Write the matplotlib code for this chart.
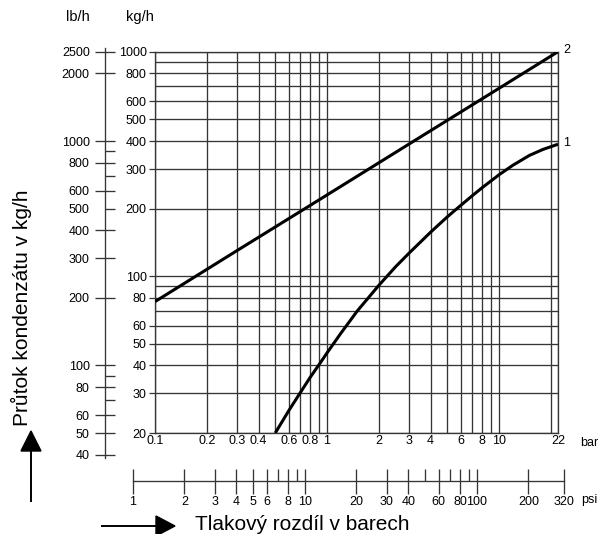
import matplotlib
matplotlib.use("Agg")
import matplotlib.pyplot as plt
from matplotlib.ticker import FixedLocator, FixedFormatter, NullFormatter
from matplotlib.patches import Polygon
from matplotlib.lines import Line2D
import matplotlib.transforms as mtransforms
import numpy as np

# ---------------- data ----------------
bar_labeled = [0.1, 0.2, 0.3, 0.4, 0.6, 0.8, 1, 2, 3, 4, 6, 8, 10, 22]
bar_labels = ["0.1", "0.2", "0.3", "0.4", "0.6", "0.8", "1", "2", "3", "4", "6", "8", "10", "22"]
bar_grid_extra = [0.5, 0.7, 0.9, 5, 7, 9, 20]

kg_labeled = [20, 30, 40, 50, 60, 80, 100, 200, 300, 400, 500, 600, 800, 1000]
kg_grid_extra = [70, 90, 700, 900]

lb_major = [40, 50, 60, 80, 100, 200, 300, 400, 600, 800, 1000, 2000, 2500]
lb_minor = [70, 90, 500, 700, 900]
lb_minor_labels = ["", "", "500", "", ""]
LB_PER_KG = 2.5   # as drawn on the chart

psi_major = [1, 2, 3, 4, 5, 6, 8, 10, 20, 30, 40, 60, 80, 100, 200, 320]
psi_minor = [7, 9, 50, 70, 90]

curve2_bar = [0.1, 0.3, 1, 3, 10, 22]
curve2_kg = [77, 130, 230, 388, 687, 1000]

curve1_bar = [0.5, 0.6, 0.7, 0.8, 0.9, 1, 1.2, 1.5, 2, 2.5, 3, 4, 5, 6, 7, 8, 10, 12, 15, 18, 22]
curve1_kg = [20, 25.2, 30.3, 35.5, 40.4, 45.5, 55.5, 70, 91, 110, 126.7, 157, 183.7, 207,
             228.5, 248.3, 283, 311.6, 345, 367, 387]

# ---------------- figure ----------------
W, H = 601, 534
plt.rcParams['font.family'] = ['Liberation Sans', 'DejaVu Sans']
fig = plt.figure(figsize=(W / 100, H / 100), dpi=100)

def fx(px):
    return px / W

def fy(py):
    return 1 - py / H

GRID_C = '#353535'
TICK_FS = 9

# main axes: x 155..558 px, y 51.7..433 px
mx0, mx1, my0, my1 = 155, 558, 51.7, 433
ax = fig.add_axes([fx(mx0), fy(my1), fx(mx1) - fx(mx0), fy(my0) - fy(my1)])
ax.set_xscale('log')
ax.set_yscale('log')
ax.set_xlim(0.1, 22)
ax.set_ylim(20, 1000)

ax.xaxis.set_major_locator(FixedLocator(bar_labeled))
ax.xaxis.set_major_formatter(FixedFormatter(bar_labels))
ax.xaxis.set_minor_locator(FixedLocator(bar_grid_extra))
ax.xaxis.set_minor_formatter(NullFormatter())
ax.yaxis.set_major_locator(FixedLocator(kg_labeled))
ax.yaxis.set_major_formatter(FixedFormatter([str(v) for v in kg_labeled]))
ax.yaxis.set_minor_locator(FixedLocator(kg_grid_extra))
ax.yaxis.set_minor_formatter(NullFormatter())

ax.tick_params(axis='x', which='both', length=0, pad=1.5, labelsize=TICK_FS)
ax.tick_params(axis='y', which='major', length=4.5, width=0.9, color=GRID_C,
               pad=1.5, labelsize=TICK_FS)
ax.tick_params(axis='y', which='minor', length=0)
ax.grid(True, which='both', color=GRID_C, linewidth=0.95)
for s in ax.spines.values():
    s.set_color(GRID_C)
    s.set_linewidth(0.95)

ax.plot(curve2_bar, curve2_kg, color='black', lw=2.2, solid_capstyle='butt', zorder=5)
ax.plot(curve1_bar, curve1_kg, color='black', lw=2.2, solid_capstyle='butt', zorder=5)
ax.annotate("2", (curve2_bar[-1], curve2_kg[-1]), xytext=(4, 1), textcoords='offset points',
            fontsize=TICK_FS, va='center', ha='left', annotation_clip=False)
ax.annotate("1", (curve1_bar[-1], curve1_kg[-1]), xytext=(4, 1), textcoords='offset points',
            fontsize=TICK_FS, va='center', ha='left', annotation_clip=False)

fig.text(fx(580), fy(443), "bar", fontsize=TICK_FS, va='center', ha='left')

# ---------------- lb/h axis ----------------
def kg_at_px(py):
    frac = (my1 - py) / (my1 - my0)
    return 10 ** (np.log10(20) + frac * np.log10(1000 / 20))

lx, ly0, ly1 = 105, 48, 458
axl = fig.add_axes([fx(lx), fy(ly1), 0.05, fy(ly0) - fy(ly1)])
axl.set_yscale('log')
axl.set_ylim(kg_at_px(ly1) * LB_PER_KG, kg_at_px(ly0) * LB_PER_KG)
axl.patch.set_visible(False)
for k in ['top', 'right', 'bottom']:
    axl.spines[k].set_visible(False)
axl.spines['left'].set_color(GRID_C)
axl.spines['left'].set_linewidth(0.95)
axl.set_xticks([])
axl.yaxis.set_major_locator(FixedLocator(lb_major))
axl.yaxis.set_major_formatter(FixedFormatter([str(v) for v in lb_major]))
axl.yaxis.set_minor_locator(FixedLocator(lb_minor))
axl.yaxis.set_minor_formatter(FixedFormatter(lb_minor_labels))
axl.tick_params(axis='y', which='major', direction='inout', length=15, width=0.95,
                color=GRID_C, pad=3.5, labelsize=TICK_FS)
axl.tick_params(axis='y', which='minor', direction='in', length=7.5, width=0.95,
                color=GRID_C, pad=11.5, labelsize=TICK_FS)

fig.text(fx(78), fy(17), "lb/h", fontsize=10.5, ha='center', va='center')
fig.text(fx(140), fy(17), "kg/h", fontsize=10.5, ha='center', va='center')

# ---------------- psi axis ----------------
px0, px1, pyy = 132.7, 563.6, 481
axp = fig.add_axes([fx(px0), fy(pyy), fx(px1) - fx(px0), 0.02])
axp.set_xscale('log')
axp.set_xlim(1, 320)
axp.patch.set_visible(False)
for k in ['top', 'right', 'left']:
    axp.spines[k].set_visible(False)
axp.spines['bottom'].set_color(GRID_C)
axp.spines['bottom'].set_linewidth(0.95)
axp.set_yticks([])
axp.xaxis.set_major_locator(FixedLocator(psi_major))
axp.xaxis.set_major_formatter(FixedFormatter([str(v) for v in psi_major]))
axp.xaxis.set_minor_locator(FixedLocator(psi_minor))
axp.xaxis.set_minor_formatter(NullFormatter())
axp.tick_params(axis='x', which='major', direction='inout', length=18, width=0.95,
                color=GRID_C, pad=2, labelsize=TICK_FS)
axp.tick_params(axis='x', which='minor', direction='in', length=9, width=0.95,
                color=GRID_C)
fig.text(fx(581), fy(500), "psi", fontsize=TICK_FS, va='center', ha='left')

# ---------------- labels and arrows ----------------
pix = mtransforms.Affine2D().scale(1 / W, -1 / H).translate(0, 1) + fig.transFigure

fig.text(fx(21), fy(308), "Průtok kondenzátu v kg/h", rotation=90, fontsize=15,
         ha='center', va='center')
fig.text(fx(195), fy(525), "Tlakový rozdíl v barech", fontsize=15,
         ha='left', va='center')

fig.add_artist(Line2D([31, 31], [501, 449], transform=pix, color='black', lw=1.4))
fig.add_artist(Polygon([[31, 431], [21, 451], [41, 451]], closed=True,
                       transform=pix, color='black'))
fig.add_artist(Line2D([102, 158], [526, 526], transform=pix, color='black', lw=1.4))
fig.add_artist(Polygon([[175, 526], [156, 516], [156, 536]], closed=True,
                       transform=pix, color='black'))

fig.savefig("out.png", dpi=100)
